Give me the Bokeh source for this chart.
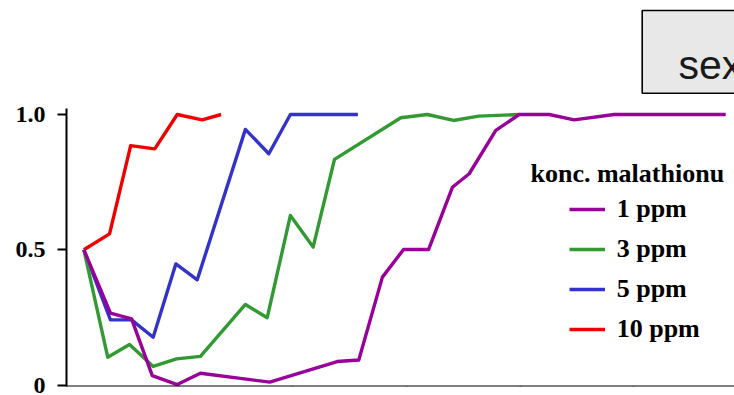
from bokeh.plotting import figure
from bokeh.models import (Range1d, FixedTicker, Legend, LegendItem, Label,
                          BoxAnnotation, LinearAxis, Grid)
from bokeh.embed import file_html
from bokeh.resources import INLINE

# ---------------- data ----------------
series_labels = ["1 ppm", "3 ppm", "5 ppm", "10 ppm"]
series_colors = ["#990099", "#339933", "#3333CC", "#EE0000"]

time_1ppm = [0.80, 1.97, 2.90, 3.81, 4.91, 5.93, 8.98, 11.95, 12.90, 13.94,
             14.87, 15.97, 17.02, 17.76, 18.93, 19.96, 21.28, 22.38, 24.14, 29.05]
prop_1ppm = [0.50, 0.266, 0.245, 0.035, 0.002, 0.044, 0.011, 0.087, 0.093, 0.399,
             0.501, 0.501, 0.731, 0.781, 0.941, 1.00, 1.00, 0.98, 1.00, 1.00]

time_3ppm = [0.80, 1.85, 2.81, 3.85, 4.88, 5.93, 7.91, 8.87, 9.89, 10.89,
             11.83, 14.75, 15.92, 17.07, 18.17, 19.96]
prop_3ppm = [0.50, 0.103, 0.150, 0.069, 0.097, 0.106, 0.298, 0.249, 0.627, 0.510,
             0.834, 0.988, 1.00, 0.978, 0.994, 1.00]

time_5ppm = [0.80, 1.97, 2.90, 3.85, 4.85, 5.79, 7.91, 8.94, 9.89, 10.89, 11.87, 12.86]
prop_5ppm = [0.50, 0.241, 0.241, 0.177, 0.448, 0.389, 0.945, 0.855, 1.00, 1.00, 1.00, 1.00]

time_10ppm = [0.80, 1.93, 2.86, 3.92, 4.91, 6.01, 6.84]
prop_10ppm = [0.50, 0.559, 0.885, 0.873, 1.00, 0.980, 1.00]

x_ticks = [5, 10, 15, 20, 25]
y_ticks = [0, 0.5, 1]
y_tick_labels = {0: "0", 0.5: "0.5", 1: "1.0"}

legend_title = "konc. malathionu"
strip_text = "sex"

# ---------------- layout (picture pixels -> data) ----------------
W, H = 734, 395
OFF = 0
BORDER_LEFT = 66
BORDER_BOTTOM = 9
PX_PER_X = 22.72
X15_PAGE = 406.0
PX_PER_Y = 270.6
Y0_PAGE = 384.6

def xd(page_x):
    return 15 + (page_x - X15_PAGE) / PX_PER_X

def yd(page_y):
    return (Y0_PAGE - page_y) / PX_PER_Y

frame_left_page = OFF + BORDER_LEFT
frame_right_page = OFF + W
frame_top_page = OFF
frame_bottom_page = OFF + H - BORDER_BOTTOM

x_start, x_end = xd(frame_left_page), xd(frame_right_page)
y_start, y_end = yd(frame_bottom_page), yd(frame_top_page)

p = figure(width=W, height=H, output_backend="svg", toolbar_location=None,
           x_range=Range1d(x_start, x_end), y_range=Range1d(y_start, y_end),
           min_border_left=BORDER_LEFT, min_border_right=0, min_border_top=0,
           min_border_bottom=BORDER_BOTTOM,
           x_axis_location=None, y_axis_location=None)
p.outline_line_color = None
p.background_fill_color = "white"
p.border_fill_color = "white"
p.center = [c for c in p.center if not isinstance(c, Grid)]

SERIF = "Liberation Serif"

# y axis
yaxis = LinearAxis(ticker=FixedTicker(ticks=y_ticks), bounds=(y_start, yd(108)))
yaxis.major_label_overrides = y_tick_labels
yaxis.major_label_text_font = SERIF
yaxis.major_label_text_font_style = "bold"
yaxis.major_label_text_font_size = "24px"
yaxis.major_label_text_color = "black"
yaxis.major_label_standoff = 12
yaxis.axis_line_width = 2
yaxis.axis_line_color = "black"
yaxis.major_tick_line_width = 2
yaxis.major_tick_line_color = "black"
yaxis.major_tick_in = 0
yaxis.major_tick_out = 9
yaxis.minor_tick_line_color = None
p.add_layout(yaxis, "left")

# x axis (its tick labels lie outside the visible crop)
xaxis = LinearAxis(ticker=FixedTicker(ticks=x_ticks), fixed_location=yd(385.5))
xaxis.major_label_text_color = None
xaxis.axis_line_width = 2
xaxis.axis_line_color = "black"
xaxis.major_tick_line_width = 2
xaxis.major_tick_line_color = "black"
xaxis.major_tick_in = 0
xaxis.major_tick_out = 10
xaxis.minor_tick_line_color = None
p.add_layout(xaxis, "below")

# lines (drawn so that 1 ppm ends up on top)
times = [time_1ppm, time_3ppm, time_5ppm, time_10ppm]
props = [prop_1ppm, prop_3ppm, prop_5ppm, prop_10ppm]
renderers = {}
for i in [3, 2, 1, 0]:
    r = p.line(times[i], props[i], line_color=series_colors[i], line_width=3.4,
               line_join="round")
    renderers[i] = r

legend = Legend(items=[LegendItem(label=series_labels[i], renderers=[renderers[i]])
                       for i in range(4)],
                location=(568.7 - frame_left_page, frame_bottom_page - (208.3 + 20 + 3 * 40.2)),
                padding=0, margin=0, spacing=0,
                glyph_width=36, glyph_height=40, label_height=40,
                label_standoff=12,
                label_text_font=SERIF, label_text_font_style="bold",
                label_text_font_size="26px", label_text_color="black",
                border_line_color=None, background_fill_alpha=0)
p.add_layout(legend, "center")

p.add_layout(Label(x=xd(530), y=yd(173.3), text=legend_title,
                   text_font=SERIF, text_font_style="bold", text_font_size="26px",
                   text_color="black", text_baseline="alphabetic", text_align="left"))

# strip box at top right
p.add_layout(BoxAnnotation(left=xd(641.7), right=xd(800), top=yd(10), bottom=yd(92.7),
                           fill_color="#E8E8E8", fill_alpha=1.0,
                           line_color="black", line_alpha=1.0, line_width=1.6))
p.add_layout(Label(x=xd(678), y=yd(64.5), text=strip_text,
                   text_font="Liberation Sans", text_font_size="41px",
                   text_color="#1A1A1A", text_baseline="alphabetic", text_align="left"))

open("out.html", "w").write(file_html(p, INLINE))
